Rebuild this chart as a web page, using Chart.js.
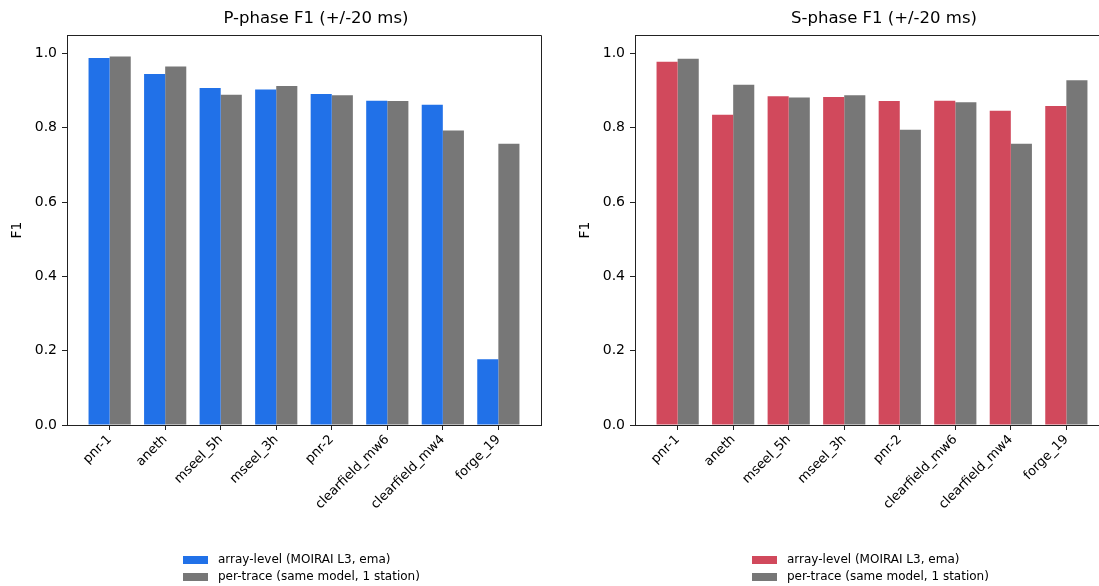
<!DOCTYPE html>
<html lang="en">
<head>
    <meta charset="UTF-8">
    <title>F1 per dataset</title>
    <script src="https://cdn.jsdelivr.net/npm/chart.js"></script>
    <style>
        html, body { margin: 0; overflow: hidden; background: #fff; }
        body { width: 1099px; height: 586px; font-family: "DejaVu Sans", sans-serif; position: relative; }
        .panel { position: absolute; top: 0; height: 586px; overflow: hidden; }
        .legend { position: absolute; top: 551px; font-size: 12px; color: #000; line-height: 17px; }
        .legend div { display: flex; align-items: center; white-space: nowrap; }
        .legend span.box { display: inline-block; width: 25px; height: 8px; margin-right: 10px; }
    </style>
    <script>
        // data
        const datasets_names = ["pnr-1", "aneth", "mseel_5h", "mseel_3h", "pnr-2", "clearfield_mw6", "clearfield_mw4", "forge_19"];
        const p_array = [0.988, 0.945, 0.907, 0.903, 0.891, 0.873, 0.862, 0.177];
        const p_trace = [0.992, 0.965, 0.889, 0.913, 0.888, 0.872, 0.793, 0.757];
        const s_array = [0.978, 0.835, 0.885, 0.883, 0.872, 0.873, 0.846, 0.859];
        const s_trace = [0.986, 0.916, 0.882, 0.888, 0.795, 0.869, 0.757, 0.928];
        const y_ticks = [0.0, 0.2, 0.4, 0.6, 0.8, 1.0];

        const series_labels = ["array-level (MOIRAI L3, ema)", "per-trace (same model, 1 station)"];
        const gray = '#777777';

        // top/right spines + the panel title
        const boxPlugin = {
            id: 'box',
            afterDraw(chart, args, opts) {
                const a = chart.chartArea;
                const ctx = chart.ctx;
                ctx.save();
                ctx.strokeStyle = '#222';
                ctx.lineWidth = 1;
                ctx.beginPath();
                ctx.moveTo(a.left, a.top + 0.5);
                ctx.lineTo(a.right + 0.5, a.top + 0.5);
                if (opts.rightSpine) ctx.lineTo(a.right + 0.5, a.bottom);
                ctx.stroke();

                ctx.fillStyle = '#000';
                ctx.font = '16.5px "DejaVu Sans"';
                ctx.textAlign = 'center';
                ctx.textBaseline = 'middle';
                ctx.fillText(opts.text, (a.left + a.right) / 2 + 12, 19);
                ctx.restore();
            }
        };

        function makeChart(canvasId, title, arr, trace, color, rightSpine) {
            const ctx = document.getElementById(canvasId).getContext('2d');
            new Chart(ctx, {
                type: 'bar',
                data: {
                    datasets: [{
                        label: series_labels[0],
                        data: arr.map((v, i) => ({ x: i, y: v })),
                        backgroundColor: color,
                        borderWidth: 0,
                        categoryPercentage: 0.76,
                        barPercentage: 1.0
                    }, {
                        label: series_labels[1],
                        data: trace.map((v, i) => ({ x: i, y: v })),
                        backgroundColor: gray,
                        borderWidth: 0,
                        categoryPercentage: 0.76,
                        barPercentage: 1.0
                    }]
                },
                options: {
                    responsive: false,
                    animation: false,
                    layout: { padding: { left: 0, right: 19, top: 35, bottom: 0 } },
                    plugins: {
                        legend: { display: false },
                        tooltip: { enabled: false },
                        title: { display: false },
                        box: { text: title, rightSpine: rightSpine }
                    },
                    scales: {
                        x: {
                            type: 'linear',
                            min: -0.768,
                            max: 7.768,
                            offset: false,
                            afterBuildTicks: (scale) => { scale.ticks = datasets_names.map((n, i) => ({ value: i })); },
                            afterFit: (scale) => { scale.height = 161; },
                            grid: { offset: false, drawOnChartArea: false, drawTicks: true, tickLength: 5, color: '#222' },
                            border: { display: true, color: '#222', width: 1 },
                            ticks: {
                                autoSkip: false,
                                minRotation: 45,
                                maxRotation: 45,
                                padding: 2,
                                color: '#000',
                                font: { family: 'DejaVu Sans', size: 13 },
                                callback: (v) => datasets_names[v]
                            }
                        },
                        y: {
                            min: 0,
                            max: 1.05,
                            afterBuildTicks: (scale) => { scale.ticks = y_ticks.map(v => ({ value: v })); },
                            afterFit: (scale) => { scale.width = 67; },
                            grid: { drawOnChartArea: false, drawTicks: true, tickLength: 5, color: '#222' },
                            border: { display: true, color: '#222', width: 1 },
                            ticks: {
                                padding: 5,
                                color: '#000',
                                font: { family: 'DejaVu Sans', size: 14 },
                                callback: (v) => Number(v).toFixed(1)
                            },
                            title: {
                                display: true,
                                text: 'F1',
                                color: '#000',
                                font: { family: 'DejaVu Sans', size: 14 },
                                padding: { top: 9, bottom: 0 }
                            }
                        }
                    }
                },
                plugins: [boxPlugin]
            });
        }

        function makeLegend(divId, color) {
            const el = document.getElementById(divId);
            const colors = [color, gray];
            el.innerHTML = series_labels.map((t, i) =>
                `<div><span class="box" style="background:${colors[i]}"></span>${t}</div>`).join('');
        }

        window.addEventListener('load', () => {
            makeChart('pChart', 'P-phase F1 (+/-20 ms)', p_array, p_trace, '#2171e8', true);
            // right panel is cut off by the figure edge, its right spine is not visible
            makeChart('sChart', 'S-phase F1 (+/-20 ms)', s_array, s_trace, '#d1495c', false);
            makeLegend('pLegend', '#2171e8');
            makeLegend('sLegend', '#d1495c');
        });
    </script>
</head>
<body>
    <div class="panel" style="left:0px; width:560px"><canvas id="pChart" width="560" height="586"></canvas></div>
    <div class="panel" style="left:568px; width:531px"><canvas id="sChart" width="560" height="586"></canvas></div>
    <div class="legend" id="pLegend" style="left:183px"></div>
    <div class="legend" id="sLegend" style="left:752px"></div>
</body>
</html>
